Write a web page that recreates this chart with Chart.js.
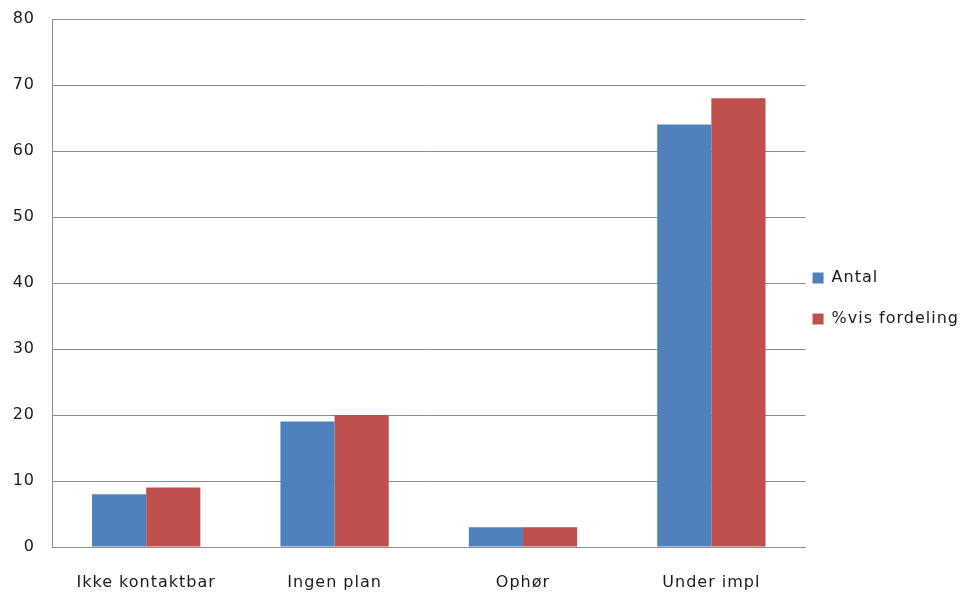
<!DOCTYPE html>
<html>
<head>
<meta charset="utf-8">
<script src="https://cdn.jsdelivr.net/npm/chart.js@4.4.1/dist/chart.umd.min.js"></script>
<style>
  html, body { margin: 0; padding: 0; background: #fff; }
  #wrap { width: 965px; height: 592px; }
</style>
</head>
<body>
<div id="wrap"><canvas id="chart"></canvas></div>
<script>
/* =========================================================
   DATA
========================================================= */
const categories = ["Ikke kontaktbar", "Ingen plan", "Ophør", "Under impl"];
const antal = [8, 19, 3, 64];
const fordeling = [9, 20, 3, 68];
const yTicks = [0, 10, 20, 30, 40, 50, 60, 70, 80];

/* =========================================================
   CHART
========================================================= */
Chart.defaults.font.family = "'DejaVu Sans', Verdana, sans-serif";
Chart.defaults.font.size = 16;
Chart.defaults.color = "#1a1a1a";

// wider letter spacing, like the old bitmap text in the original
// (canvas resize wipes context state, so set it again each pass)
const setSpacing = chart => { chart.ctx.letterSpacing = "1px"; };
const spacing = {
  id: "spacing",
  beforeUpdate: setSpacing,
  beforeLayout: setSpacing,
  beforeDraw: setSpacing,
  // pull legend closer to the plot
  afterLayout: chart => {
    chart.legend.left -= 18;
    chart.legend.top -= 7;
    chart.legend.bottom -= 7;
  }
};

new Chart(document.getElementById("chart"), {
  type: "bar",
  data: {
    labels: categories,
    datasets: [
      { label: "Antal", data: antal, backgroundColor: "#4f81bd" },
      { label: "%vis fordeling", data: fordeling, backgroundColor: "#c0504d" }
    ]
  },
  options: {
    responsive: true,
    maintainAspectRatio: false,
    animation: false,
    categoryPercentage: 0.575,
    barPercentage: 1,
    layout: { padding: { top: 19, right: -22, left: 0, bottom: 0 } },
    plugins: {
      tooltip: { enabled: false },
      legend: {
        position: "right",
        labels: { boxWidth: 11, boxHeight: 11, padding: 25 }
      }
    },
    scales: {
      x: {
        grid: { display: false },
        border: { color: "#8c8c8c" },
        ticks: { padding: 18 },
        afterFit: axis => { axis.height = 45; }
      },
      y: {
        min: 0,
        max: 80,
        afterBuildTicks: axis => { axis.ticks = yTicks.map(v => ({ value: v })); },
        afterFit: axis => { axis.width = 52; axis.paddingTop = 0; axis.paddingBottom = 0; },
        grid: { color: "#8c8c8c", drawTicks: false },
        border: { color: "#8c8c8c" },
        ticks: { padding: 17 }
      }
    }
  },
  plugins: [spacing]
});
</script>
</body>
</html>
